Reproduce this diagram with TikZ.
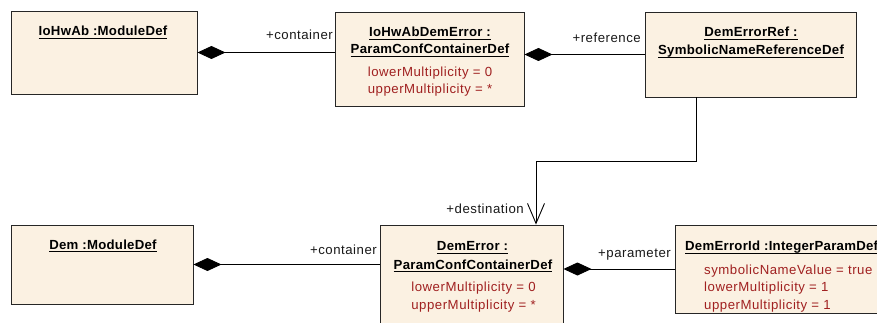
\documentclass[tikz,border=0pt]{standalone}
\usepackage{fontspec}
\setmainfont{Liberation Sans}
\newfontfamily\regf{Liberation Sans}[LetterSpace=4]
\newfontfamily\boldf{Liberation Sans}[LetterSpace=2]
\usetikzlibrary{arrows.meta,shadows}
\definecolor{boxfill}{RGB}{251,241,226}
\definecolor{attrred}{RGB}{160,32,32}
\newcommand\myul[1]{\setbox0\hbox{#1}\rlap{\rule[-3pt]{\wd0}{0.8pt}}\box0}
\tikzset{
  box/.style={draw=black!85, line width=0.9pt, fill=boxfill, rectangle, inner sep=0pt,
    drop shadow={shadow xshift=1pt, shadow yshift=-1pt, fill=black!55, opacity=1}},
  ttlstyle/.style={font=\boldf\bfseries\fontsize{13.2}{17}\selectfont, anchor=base, inner sep=0pt},
  attrtxt/.style={font=\regf\fontsize{13.2}{17}\selectfont, text=attrred, anchor=base, inner sep=0pt},
  lbl/.style={font=\regf\fontsize{13.2}{17}\selectfont, anchor=base east, inner sep=0pt, text=black!90},
  comp/.style={draw=black, line width=0.9pt, {Diamond[length=28pt,width=13pt,fill=black]}-},
  refarrow/.style={draw=black, line width=0.9pt, -{Straight Barb[length=20pt,width=17pt]}}
}
\begin{document}
\begin{tikzpicture}[x=1pt, y=-1pt]
\useasboundingbox (0,0) rectangle (877,323);
\fill[white] (0,0) rectangle (877,323);
\clip (0,0) rectangle (877,323);
% boxes
\node[box, minimum width=186pt, minimum height=83pt] (b1) at (104,52.5) {};
\node[box, minimum width=189pt, minimum height=94pt] (b2) at (429.5,59) {};
\node[box, minimum width=211pt, minimum height=85pt] (b3) at (750.5,54.5) {};
\node[box, minimum width=182pt, minimum height=79pt] (b5) at (102,264.5) {};
\node[box, minimum width=183pt, minimum height=110pt] (b4) at (471.5,280) {};
\node[box, minimum width=225pt, minimum height=88pt] (b6) at (787.5,269) {};
% texts
\node[ttlstyle] (t1) at (103,36) {\myul{IoHwAb :ModuleDef}};
\node[ttlstyle] (t2a) at (430,36.5) {\myul{IoHwAbDemError :}};
\node[ttlstyle] (t2b) at (430,54) {\myul{ParamConfContainerDef}};
\node[attrtxt] (a2a) at (430,77) {lowerMultiplicity = 0};
\node[attrtxt] (a2b) at (430,94) {upperMultiplicity = *};
\node[ttlstyle] (t3a) at (751,36.5) {\myul{DemErrorRef :}};
\node[ttlstyle] (t3b) at (751,55) {\myul{SymbolicNameReferenceDef}};
\node[ttlstyle] (t5) at (103,249) {\myul{Dem :ModuleDef}};
\node[ttlstyle] (t4a) at (472.5,250.7) {\myul{DemError :}};
\node[ttlstyle] (t4b) at (473,269) {\myul{ParamConfContainerDef}};
\node[attrtxt] (a4a) at (473.5,291.7) {lowerMultiplicity = 0};
\node[attrtxt] (a4b) at (473.5,309) {upperMultiplicity = *};
\node[ttlstyle, anchor=base west] (t6) at (685,250.7) {\myul{DemErrorId :IntegerParamDef}};
\node[attrtxt, anchor=base west] (a6a) at (704,274) {symbolicNameValue = true};
\node[attrtxt, anchor=base west] (a6b) at (704,291.7) {lowerMultiplicity = 1};
\node[attrtxt, anchor=base west] (a6c) at (704,309) {upperMultiplicity = 1};
% connectors
\draw[comp] (b1.east) -- (b1.east -| b2.west);
\draw[comp] (b3.west -| b2.east) -- (b3.west);
\draw[comp] (b5.east) -- (b5.east -| b4.west);
\draw[comp] (b6.west -| b4.east) -- (b6.west);
\draw[refarrow] ([xshift=-54.5pt]b3.south) -- ++(0,64) -| ([xshift=64.5pt]b4.north);
% labels
\node[lbl] (l1) at (333,40) {+container};
\node[lbl] (l2) at (641,42.5) {+reference};
\node[lbl] (l3) at (524,213) {+destination};
\node[lbl] (l4) at (377,254) {+container};
\node[lbl] (l5) at (671,257) {+parameter};
\end{tikzpicture}
\end{document}
